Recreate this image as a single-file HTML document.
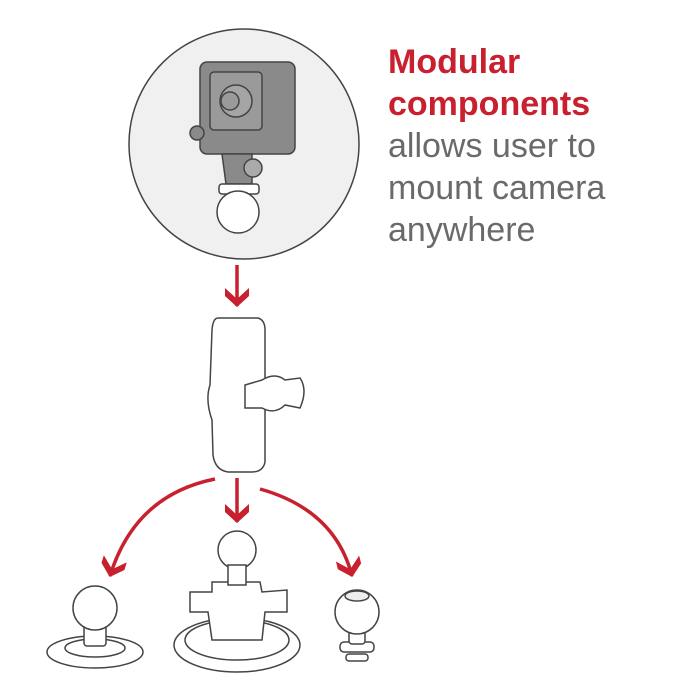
<!DOCTYPE html>
<html><head><style>
body{margin:0;background:#fff;width:700px;height:700px;overflow:hidden;font-family:"Liberation Sans",sans-serif}
.t{position:absolute;left:388px;font-size:34px;line-height:42px;margin:0}
</style></head><body>
<svg width="700" height="700" style="position:absolute;left:0;top:0">
<defs><marker id="a" markerUnits="userSpaceOnUse" viewBox="-20 -14 22 28" refX="0" refY="0" markerWidth="22" markerHeight="28" orient="auto"><path d="M1,0 L-10,-12 L-18,-12 L-7,0 L-18,12 L-10,12Z" fill="#c8202f"/></marker></defs>
<circle cx="244" cy="144" r="115" fill="#f0f0f0" stroke="#444" stroke-width="1.5"/>
<!-- camera -->
<g stroke="#444" stroke-width="1.5" fill="#8a8a8a">
<rect x="200" y="62" width="95" height="92" rx="7"/>
<rect x="210" y="72" width="52" height="58" rx="4" fill="#9a9a9a"/>
<circle cx="236" cy="101" r="16" fill="#a5a5a5"/>
<circle cx="230" cy="101" r="9" fill="#9a9a9a"/>
<circle cx="197" cy="133" r="7"/>
<path d="M222,154 L226,184 L252,184 L252,154Z"/>
<circle cx="253" cy="168" r="9" fill="#aaa"/>
<rect x="219" y="184" width="40" height="10" rx="3" fill="#fff"/>
<circle cx="238" cy="212" r="21" fill="#fff"/>
</g>
<!-- arrows -->
<g stroke="#c8202f" stroke-width="3.5" fill="none">
<line x1="237" y1="265" x2="237" y2="306" marker-end="url(#a)"/>
<line x1="237" y1="478" x2="237" y2="522" marker-end="url(#a)"/>
<path d="M215,479 Q135,495 110,576" marker-end="url(#a)"/>
<path d="M260,489 Q335,510 352,576" marker-end="url(#a)"/>
</g>
<!-- arm -->
<g stroke="#444" stroke-width="1.5" fill="#fff">
<path d="M218,318 L258,318 Q265,320 265,330 L265,462 Q263,472 252,472 L228,472 Q215,470 213,455 L212,420 Q205,400 210,385 L212,330 Q213,318 218,318Z"/>
<path d="M245,385 L262,380 Q275,372 285,380 L300,378 Q308,390 300,408 L285,405 Q275,415 262,408 L245,408Z"/>
</g>
<!-- bottom parts -->
<g stroke="#444" stroke-width="1.5" fill="#fff">
<ellipse cx="95" cy="652" rx="48" ry="16"/>
<ellipse cx="95" cy="648" rx="30" ry="9"/>
<rect x="84" y="620" width="22" height="26" rx="3"/>
<circle cx="95" cy="608" r="22"/>
<ellipse cx="237" cy="645" rx="63" ry="27"/>
<ellipse cx="237" cy="640" rx="52" ry="20"/>
<path d="M190,592 L212,592 L212,582 L260,582 L262,592 L287,590 L287,612 L265,612 L262,640 L212,640 L208,612 L190,612Z"/>
<circle cx="237" cy="550" r="19"/>
<rect x="228" y="565" width="18" height="20"/>
<rect x="340" y="642" width="34" height="10" rx="4"/>
<rect x="349" y="628" width="16" height="16" rx="3"/>
<circle cx="357" cy="612" r="22"/>
<ellipse cx="357" cy="596" rx="12" ry="5" fill="#eee"/>
<rect x="346" y="654" width="22" height="7" rx="3"/>
</g>
</svg>
<p class="t" style="top:41px;color:#c8202f;font-weight:bold">Modular</p>
<p class="t" style="top:83px;color:#c8202f;font-weight:bold">components</p>
<p class="t" style="top:125px;color:#6a6a6a">allows user to</p>
<p class="t" style="top:167px;color:#6a6a6a">mount camera</p>
<p class="t" style="top:209px;color:#6a6a6a">anywhere</p>
</body></html>
